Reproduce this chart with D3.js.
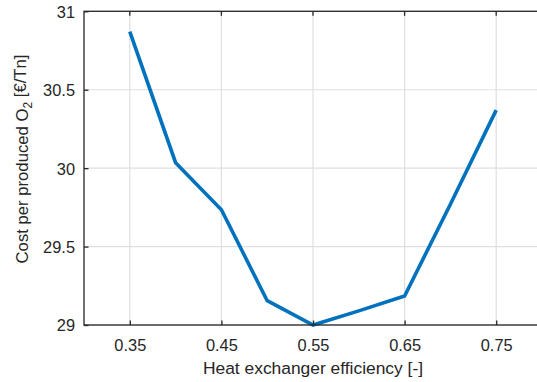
<!DOCTYPE html>
<html>
<head>
<meta charset="utf-8">
<script src="https://cdn.jsdelivr.net/npm/d3@7"></script>
<style>
  body { margin: 0; background: #fff; }
  text { font-family: "Liberation Sans", Arial, sans-serif; fill: #262626; }
</style>
</head>
<body>
<div id="container"></div>
<script>
// data
const efficiency = [0.35, 0.40, 0.45, 0.50, 0.55, 0.60, 0.65, 0.70, 0.75];
const cost = [30.87, 30.035, 29.735, 29.155, 29.0, 29.09, 29.185, 29.77, 30.37];
const xTicks = [0.35, 0.45, 0.55, 0.65, 0.75];
const xGrid = [0.35, 0.45, 0.55, 0.65, 0.75];
const yTicks = [29, 29.5, 30, 30.5, 31];

const w = 537, h = 382;
const pLeft = 84, pTop = 11.3, pRight = 542, pBottom = 325;

const svg = d3.select("#container").append("svg")
  .attr("width", w).attr("height", h);

const xScale = d3.scaleLinear().domain([0.3, 0.8]).range([pLeft, pRight]);
const yScale = d3.scaleLinear().domain([29, 31]).range([pBottom, pTop]);

// grid
svg.append("g").selectAll("line").data(xGrid).enter().append("line")
  .attr("x1", d => xScale(d)).attr("x2", d => xScale(d))
  .attr("y1", pTop).attr("y2", pBottom)
  .attr("stroke", "#dfdfdf").attr("stroke-width", 1.2);
svg.append("g").selectAll("line").data(yTicks).enter().append("line")
  .attr("x1", pLeft).attr("x2", pRight)
  .attr("y1", d => yScale(d)).attr("y2", d => yScale(d))
  .attr("stroke", "#dfdfdf").attr("stroke-width", 1.2);

// line
const line = d3.line().x((d, i) => xScale(efficiency[i])).y(d => yScale(d));
svg.append("path").datum(cost)
  .attr("d", line)
  .attr("fill", "none")
  .attr("stroke", "#0072BD")
  .attr("stroke-width", 3.6)
  .attr("stroke-linejoin", "miter");

// axes (ticks inside, box)
const xAxis = d3.axisBottom(xScale).tickValues(xTicks).tickSize(-4.5).tickPadding(14)
  .tickFormat(d3.format(".2f"));
const yAxis = d3.axisLeft(yScale).tickValues(yTicks).tickSize(-4.5).tickPadding(9)
  .tickFormat(d => d);

const gx = svg.append("g").attr("transform", "translate(0," + pBottom + ")").call(xAxis);
const gy = svg.append("g").attr("transform", "translate(" + pLeft + ",0)").call(yAxis);
[gx, gy].forEach(g => {
  g.select(".domain").remove();
  g.selectAll("line").attr("stroke", "#262626").attr("stroke-width", 1.3);
  g.selectAll("text").style("font-size", "16.4px").attr("fill", "#262626");
});
gy.selectAll("text").attr("dy", "0.36em");

// top ticks
svg.append("g").selectAll("line").data(xTicks).enter().append("line")
  .attr("x1", d => xScale(d)).attr("x2", d => xScale(d))
  .attr("y1", pTop).attr("y2", pTop + 4.5)
  .attr("stroke", "#262626").attr("stroke-width", 1.3);

// box
svg.append("rect")
  .attr("x", pLeft).attr("y", pTop)
  .attr("width", pRight - pLeft).attr("height", pBottom - pTop)
  .attr("fill", "none").attr("stroke", "#262626").attr("stroke-width", 1.3);

// labels
svg.append("text")
  .attr("x", (pLeft + pRight) / 2).attr("y", 374)
  .attr("text-anchor", "middle")
  .style("font-size", "17.4px")
  .text("Heat exchanger efficiency [-]");

const yl = svg.append("text")
  .attr("transform", "translate(28,159) rotate(-90)")
  .attr("text-anchor", "middle")
  .style("font-size", "16.7px");
yl.append("tspan").text("Cost per produced O");
yl.append("tspan").attr("dy", "0.35em").style("font-size", "12px").text("2");
yl.append("tspan").attr("dy", "-0.35em").text(" [€/Tn]");
</script>
</body>
</html>
